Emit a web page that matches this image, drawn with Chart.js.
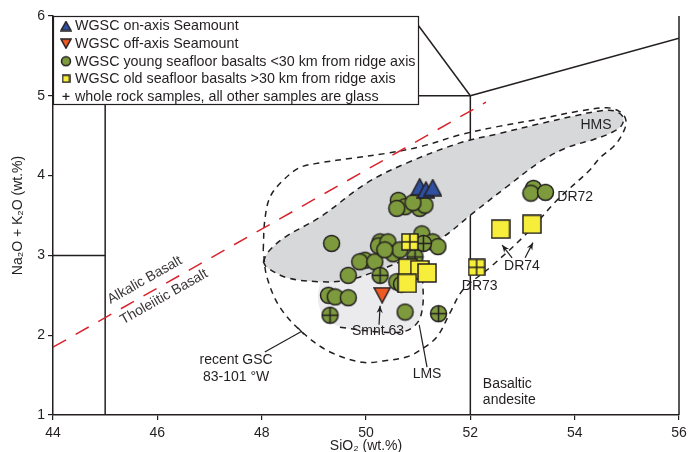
<!DOCTYPE html>
<html>
<head>
<meta charset="utf-8">
<script src="https://cdn.jsdelivr.net/npm/chart.js@4/dist/chart.umd.min.js"></script>
<style>
  html, body { margin: 0; background: #fff; }
  #wrap { width: 688px; height: 452px; }
</style>
</head>
<body>
<div id="wrap"><canvas id="tas"></canvas></div>
<script>
// axis ticks
const xTicks = [44, 46, 48, 50, 52, 54, 56];
const yTicks = [1, 2, 3, 4, 5, 6];

// WGSC samples (SiO2 vs Na2O+K2O, wt.%)
const onAxisX = [51.03, 51.15, 51.28];
const onAxisY = [3.86, 3.82, 3.85];
const offAxisX = [50.31];
const offAxisY = [2.50];
const youngX = [50.62, 50.75, 50.59, 51.03, 51.13, 50.90, 49.34, 50.27, 50.24, 50.42, 50.52, 50.65, 51.07, 51.28, 51.38,
                49.98, 49.88, 50.17, 49.66, 50.59, 50.68, 49.28, 49.41, 49.66, 50.75, 50.36, 53.21, 53.16, 53.44];
const youngY = [3.69, 3.61, 3.59, 3.59, 3.63, 3.66, 3.15, 3.17, 3.12, 3.17, 3.02, 3.07, 3.27, 3.17, 3.11,
                2.94, 2.92, 2.92, 2.75, 2.67, 2.64, 2.50, 2.48, 2.47, 2.29, 3.07, 3.84, 3.78, 3.79];
const youngRockX = [51.10, 50.94, 50.27, 49.31, 51.39];
const youngRockY = [3.15, 2.98, 2.75, 2.25, 2.27];
const oldX = [50.80, 51.03, 51.17, 50.79, 52.58, 53.18];
const oldY = [2.84, 2.82, 2.78, 2.65, 3.33, 3.39];
const oldRockX = [50.84, 52.12];
const oldRockY = [3.17, 2.85];

// fields
const hmsX = [48.03, 48.12, 48.45, 49.12, 50.02, 50.79, 51.80, 52.57, 53.33, 54.01, 54.48, 54.77, 54.93, 54.89, 54.68,
              54.35, 53.85, 53.33, 52.70, 52.05, 51.48, 50.84, 50.27, 49.64, 49.12, 48.49, 48.10, 48.03];
const hmsY = [2.92, 3.04, 3.23, 3.48, 3.91, 4.16, 4.41, 4.53, 4.65, 4.75, 4.81, 4.81, 4.73, 4.62, 4.53,
              4.45, 4.35, 4.17, 3.86, 3.53, 3.23, 2.98, 2.82, 2.69, 2.67, 2.72, 2.85, 2.92];
const lmsX = [49.12, 49.08, 49.21, 49.60, 50.27, 50.75, 51.00, 51.09, 51.09, 51.07, 51.19, 51.42, 50.84, 50.27, 49.64, 49.12];
const lmsY = [2.67, 2.44, 2.22, 2.09, 2.04, 2.05, 2.17, 2.38, 2.63, 2.88, 3.13, 3.22, 2.98, 2.82, 2.69, 2.67];
const lmsEdgeX = [49.50, 50.27, 50.75, 51.00, 51.09, 51.09, 51.07];
const lmsEdgeY = [2.10, 2.04, 2.05, 2.17, 2.38, 2.63, 2.80];
const gscX = [48.03, 48.06, 48.16, 48.41, 48.73, 49.12, 49.75, 50.40, 51.03, 51.80, 52.57, 53.33, 54.10, 54.62, 54.87,
              54.98, 54.95, 54.77, 54.48, 54.29, 53.66, 53.09, 52.38, 51.86, 51.61, 51.36, 51.03, 50.79, 50.36, 49.94,
              49.31, 48.79, 48.35, 48.10, 48.03];
const gscY = [3.07, 3.44, 3.73, 3.94, 4.10, 4.16, 4.22, 4.28, 4.36, 4.51, 4.62, 4.71, 4.81, 4.85, 4.80,
              4.70, 4.57, 4.38, 4.22, 4.07, 3.69, 3.28, 2.85, 2.57, 2.28, 1.98, 1.81, 1.73, 1.68, 1.66,
              1.79, 2.03, 2.35, 2.73, 3.07];
const alkX = [44, 52.3];
const alkY = [1.85, 4.92];
const tasLines = [
  [[45, 1], [45, 5]], [[44, 3], [45, 3]], [[45, 5], [52, 5]],
  [[52, 1], [52, 5]], [[52, 5], [56, 5.72]], [[52, 5], [50.87, 6]]
];

const legendText = [
  'WGSC on-axis Seamount',
  'WGSC off-axis Seamount',
  'WGSC young seafloor basalts <30 km from ridge axis',
  'WGSC old seafloor basalts >30 km from ridge axis',
  'whole rock samples, all other samples are glass'
];

// text on the plot, placed in data units
const notes = [
  { t: 'HMS', x: 54.41, y: 4.63 },
  { t: 'DR72', x: 54.01, y: 3.73 },
  { t: 'DR74', x: 52.99, y: 2.87 },
  { t: 'DR73', x: 52.18, y: 2.62 },
  { t: 'Smnt 63', x: 50.23, y: 2.05 },
  { t: 'LMS', x: 51.17, y: 1.51 },
  { t: 'recent GSC', x: 47.51, y: 1.69 },
  { t: '83-101 °W', x: 47.51, y: 1.48 },
  { t: 'Basaltic', x: 52.24, y: 1.39, left: true },
  { t: 'andesite', x: 52.24, y: 1.18, left: true },
  { t: 'Alkalic Basalt', x: 45.76, y: 2.69, rot: true },
  { t: 'Tholeiitic Basalt', x: 46.13, y: 2.48, rot: true }
];
const leaders = [
  { a: [48.06, 1.79], b: [48.77, 2.05] },
  { a: [48.70, 2.09], b: [48.81, 2.01] },
  { a: [51.17, 1.60], b: [51.02, 2.13] },
  { a: [50.25, 2.13], b: [50.27, 2.37], arrow: true },
  { a: [52.80, 2.97], b: [52.61, 3.13], arrow: true },
  { a: [53.05, 2.97], b: [53.20, 3.16], arrow: true }
];

const ink = '#231f20';
const FONT = "'Liberation Sans', Arial, Helvetica, sans-serif";
const pts = (xs, ys) => xs.map((x, i) => ({ x, y: ys[i] }));

function marker(w, h, draw) {
  const c = document.createElement('canvas');
  c.width = w; c.height = h;
  const g = c.getContext('2d');
  g.strokeStyle = ink; g.lineWidth = 1.5;
  draw(g, w, h);
  return c;
}
const circle = (d, fill, cross) => marker(d + 2, d + 2, (g, w) => {
  const c = w / 2, r = d / 2 - 0.5;
  g.beginPath(); g.arc(c, c, r, 0, Math.PI * 2); g.fillStyle = fill; g.fill(); g.stroke();
  if (cross) {
    g.beginPath(); g.moveTo(c - r, c); g.lineTo(c + r, c); g.moveTo(c, c - r); g.lineTo(c, c + r); g.stroke();
  }
});
const square = (d, fill, grid) => marker(d + 2, d + 2, (g, w) => {
  g.fillStyle = fill; g.fillRect(1, 1, d, d); g.strokeRect(1, 1, d, d);
  if (grid) {
    g.beginPath(); g.moveTo(1, w / 2); g.lineTo(w - 1, w / 2); g.moveTo(w / 2, 1); g.lineTo(w / 2, w - 1); g.stroke();
  }
});
const triangle = (wd, ht, fill, down) => marker(wd + 2, ht + 2, (g, w, h) => {
  g.beginPath();
  if (down) { g.moveTo(1, 1); g.lineTo(w - 1, 1); g.lineTo(w / 2, h - 1); }
  else { g.moveTo(w / 2, 1); g.lineTo(w - 1, h - 1); g.lineTo(1, h - 1); }
  g.closePath(); g.fillStyle = fill; g.fill(); g.lineJoin = 'miter'; g.stroke();
});

const GREEN = '#7d9a3c', YELLOW = '#f6ee3a', BLUE = '#2f4f9f', RED = '#ef5a24';
const mk = {
  on: triangle(17, 16, BLUE), off: triangle(16, 15, RED, true),
  young: circle(17, GREEN), youngRock: circle(17, GREEN, true),
  old: square(18, YELLOW), oldRock: square(16, YELLOW, true)
};
const lg = [triangle(10, 9, BLUE), triangle(10, 9, RED, true), circle(10, GREEN), square(7, YELLOW)];

const pointSet = (label, data, style, order) => ({
  label, data, pointStyle: style, pointRadius: 8, pointHoverRadius: 8, showLine: false, order
});
const lineSet = (data, opts) => Object.assign({
  data, showLine: true, pointRadius: 0, borderColor: ink, borderWidth: 1.5, fill: false, tension: 0, order: 20
}, opts);

const datasets = [
  pointSet('on', pts(onAxisX, onAxisY), mk.on, 1),
  pointSet('off', pts(offAxisX, offAxisY), mk.off, 1),
  pointSet('old rock', pts(oldRockX, oldRockY), mk.oldRock, 2),
  pointSet('old', pts(oldX, oldY), mk.old, 2),
  pointSet('young rock', pts(youngRockX, youngRockY), mk.youngRock, 3),
  pointSet('young', pts(youngX, youngY), mk.young, 4),
  lineSet(pts(alkX, alkY), { borderColor: '#d9232d', borderWidth: 1.5, borderDash: [15, 11], order: 8 }),
  lineSet(pts(gscX, gscY), { borderDash: [6, 5], tension: 0.35, order: 9 }),
  lineSet(pts(lmsEdgeX, lmsEdgeY), { borderDash: [6, 5], tension: 0.35, order: 9 }),
  lineSet(pts(hmsX, hmsY), { borderDash: [6, 5], tension: 0.35, fill: 'shape', backgroundColor: '#d7d8da', order: 10 }),
  lineSet(pts(lmsX, lmsY), { borderWidth: 0, tension: 0.35, fill: 'shape', backgroundColor: '#ebebed', order: 11 }),
  ...tasLines.map(seg => lineSet(seg.map(p => ({ x: p[0], y: p[1] })), { order: 12 }))
];

const overlay = {
  id: 'overlay',
  afterDatasetsDraw(chart) {
    const ctx = chart.ctx, a = chart.chartArea;
    const sx = chart.scales.x, sy = chart.scales.y;
    const px = v => sx.getPixelForValue(v), py = v => sy.getPixelForValue(v);
    ctx.save();
    // right frame
    ctx.strokeStyle = ink; ctx.lineWidth = 1.5;
    ctx.beginPath(); ctx.moveTo(a.right, a.top); ctx.lineTo(a.right, a.bottom); ctx.stroke();

    // leaders and arrows
    ctx.lineWidth = 1.2;
    leaders.forEach(l => {
      const x1 = px(l.a[0]), y1 = py(l.a[1]), x2 = px(l.b[0]), y2 = py(l.b[1]);
      ctx.beginPath(); ctx.moveTo(x1, y1); ctx.lineTo(x2, y2); ctx.stroke();
      if (l.arrow) {
        const ang = Math.atan2(y2 - y1, x2 - x1);
        ctx.beginPath();
        ctx.moveTo(x2, y2);
        ctx.lineTo(x2 - 8 * Math.cos(ang - 0.4), y2 - 8 * Math.sin(ang - 0.4));
        ctx.lineTo(x2 - 5 * Math.cos(ang), y2 - 5 * Math.sin(ang));
        ctx.lineTo(x2 - 8 * Math.cos(ang + 0.4), y2 - 8 * Math.sin(ang + 0.4));
        ctx.closePath(); ctx.fillStyle = ink; ctx.fill();
      }
    });

    // notes
    ctx.fillStyle = ink; ctx.font = '14px ' + FONT; ctx.textBaseline = 'middle';
    const slope = Math.atan2(py(alkY[1]) - py(alkY[0]), px(alkX[1]) - px(alkX[0]));
    notes.forEach(n => {
      ctx.save();
      ctx.translate(px(n.x), py(n.y));
      if (n.rot) { ctx.rotate(slope); ctx.fillStyle = '#3a3537'; }
      ctx.textAlign = n.left ? 'left' : 'center';
      ctx.fillText(n.t, 0, 0);
      ctx.restore();
    });

    // legend box
    const L = a.left, T = a.top;
    ctx.fillStyle = '#fff';
    ctx.fillRect(L, T, 366, 88);
    ctx.strokeStyle = ink; ctx.lineWidth = 1.2;
    ctx.strokeRect(L + 0.5, T + 0.5, 365, 88);
    ctx.textAlign = 'left'; ctx.fillStyle = ink; ctx.font = '14.3px ' + FONT;
    legendText.forEach((t, i) => {
      const y = T + 10 + i * 17.6;
      if (i < 4) ctx.drawImage(lg[i], L + 13 - lg[i].width / 2, y - lg[i].height / 2);
      else {
        ctx.lineWidth = 1.3;
        ctx.beginPath(); ctx.moveTo(L + 9.5, y); ctx.lineTo(L + 16.5, y); ctx.moveTo(L + 13, y - 3.5); ctx.lineTo(L + 13, y + 3.5); ctx.stroke();
      }
      ctx.fillText(t, L + 22, y + 0.5);
    });
    ctx.restore();
  }
};

const tickFont = { family: FONT, size: 14 };
new Chart(document.getElementById('tas'), {
  type: 'scatter',
  data: { datasets },
  options: {
    responsive: true,
    maintainAspectRatio: false,
    animation: false,
    events: [],
    layout: { padding: { top: 16, right: 8, left: 0, bottom: 0 } },
    plugins: { legend: { display: false }, tooltip: { enabled: false } },
    scales: {
      x: {
        type: 'linear', min: 44, max: 56,
        afterBuildTicks: s => { s.ticks = xTicks.map(v => ({ value: v })); },
        afterFit: s => { s.height = 37; s.paddingLeft = 0; s.paddingRight = 0; },
        ticks: { font: tickFont, color: ink, padding: 5, maxRotation: 0 },
        grid: { drawOnChartArea: false, tickLength: 5, color: ink, lineWidth: 1.2 },
        border: { color: ink, width: 1.5 },
        title: { display: true, text: 'SiO₂ (wt.%)', font: { family: FONT, size: 14 }, color: ink, padding: { top: 0, bottom: -3 } }
      },
      y: {
        type: 'linear', min: 1, max: 6,
        afterBuildTicks: s => { s.ticks = yTicks.map(v => ({ value: v })); },
        afterFit: s => { s.width = 53; s.paddingTop = 0; s.paddingBottom = 0; },
        ticks: { font: tickFont, color: ink, padding: 3 },
        grid: { drawOnChartArea: false, tickLength: 5, color: ink, lineWidth: 1.2 },
        border: { color: ink, width: 1.5 },
        title: { display: true, text: 'Na₂O + K₂O (wt.%)', font: { family: FONT, size: 14 }, color: ink, padding: { top: 10, bottom: 0 } }
      }
    }
  },
  plugins: [overlay]
});
</script>
</body>
</html>
